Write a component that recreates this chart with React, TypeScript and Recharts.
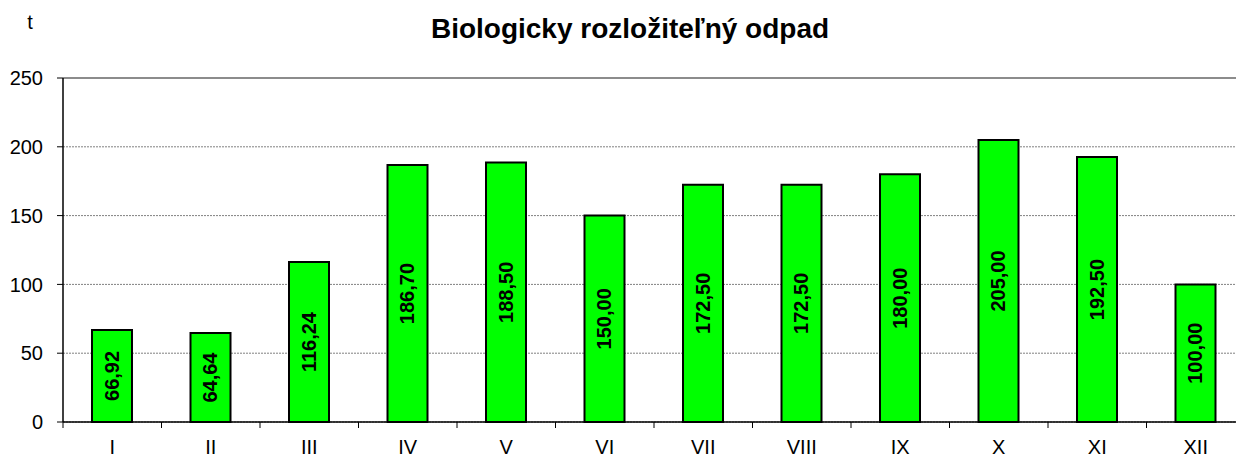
import React from "react";
import { BarChart, Bar, XAxis, YAxis, CartesianGrid, ReferenceLine, LabelList } from "recharts";

const months = ["I", "II", "III", "IV", "V", "VI", "VII", "VIII", "IX", "X", "XI", "XII"];
const tons = [66.92, 64.64, 116.24, 186.7, 188.5, 150.0, 172.5, 172.5, 180.0, 205.0, 192.5, 100.0];
const yTicks = [0, 50, 100, 150, 200, 250];

const data = months.map((m, i) => ({ month: m, value: tons[i] }));

const FONT = '"Liberation Sans", Arial, sans-serif';
const CHART_W = 1246;
const Y_AXIS_W = 63;
const HALF_BAND = (CHART_W - Y_AXIS_W - 1) / months.length / 2;

const fmt = (v: number) => v.toFixed(2).replace(".", ",");

// x ticks sit between categories, labels under the centre
const MonthTick = (props: any) => {
  const { x, y, payload } = props;
  return (
    <g>
      <line x1={x - HALF_BAND} x2={x - HALF_BAND} y1={y - 6} y2={y} stroke="#000" strokeWidth={1} />
      <text x={x} y={y + 26} textAnchor="middle" fontSize={20} fontFamily={FONT} fill="#000">
        {payload.value}
      </text>
    </g>
  );
};

const BarValue = (props: any) => {
  const { x, y, width, height, value } = props;
  const cx = x + width / 2;
  const cy = y + height / 2;
  return (
    <text
      x={cx}
      y={cy}
      transform={`rotate(-90, ${cx}, ${cy})`}
      textAnchor="middle"
      dominantBaseline="central"
      fontSize={20}
      fontWeight="bold"
      fontFamily={FONT}
      fill="#000"
    >
      {fmt(value)}
    </text>
  );
};

export default function App() {
  return (
    <div
      style={{
        position: "absolute",
        left: 0,
        top: 0,
        width: 1236,
        height: 456,
        overflow: "hidden",
        background: "#fff",
        fontFamily: FONT,
      }}
    >
      <BarChart
        width={CHART_W}
        height={456}
        data={data}
        margin={{ top: 78, right: 1, left: 0, bottom: 0 }}
      >
        <CartesianGrid vertical={false} stroke="#808080" strokeDasharray="2 1" />
        <ReferenceLine y={250} stroke="#8c8c8c" strokeWidth={2} />
        <XAxis
          dataKey="month"
          height={34}
          tickLine={false}
          tickSize={6}
          tickMargin={0}
          axisLine={{ stroke: "#000", strokeWidth: 1.5 }}
          tick={<MonthTick />}
          interval={0}
        />
        <YAxis
          width={Y_AXIS_W}
          domain={[0, 250]}
          ticks={yTicks}
          tickSize={6}
          tickMargin={14}
          axisLine={{ stroke: "#000", strokeWidth: 1.5 }}
          tickLine={{ stroke: "#000" }}
          tick={{ fontSize: 20, fill: "#000", fontFamily: FONT }}
        />
        <Bar dataKey="value" fill="#00ff00" stroke="#000" strokeWidth={2} barSize={40} isAnimationActive={false}>
          <LabelList dataKey="value" content={<BarValue />} />
        </Bar>
      </BarChart>
      <svg
        width={1236}
        height={456}
        style={{ position: "absolute", left: 0, top: 0, pointerEvents: "none" }}
      >
        <text x={30} y={29} textAnchor="middle" fontSize={20} fontFamily={FONT} fill="#000">
          t
        </text>
        <text x={630} y={38} textAnchor="middle" fontSize={28} fontWeight="bold" fontFamily={FONT} fill="#000">
          Biologicky rozložiteľný odpad
        </text>
      </svg>
    </div>
  );
}
